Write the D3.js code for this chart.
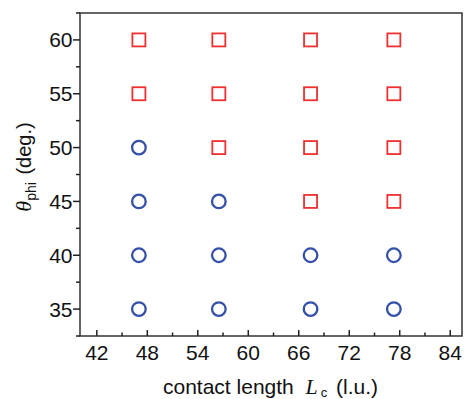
<!DOCTYPE html>
<html>
<head>
<meta charset="utf-8">
<script src="https://cdn.jsdelivr.net/npm/d3@7"></script>
<style>
  body { margin: 0; background: #fff; }
  svg text { font-family: "Liberation Sans", Arial, sans-serif; fill: #111; }
</style>
</head>
<body>
<div id="chart"></div>
<script>
// contact length columns and angle rows
var lengths = [47, 56.5, 67.4, 77.3];
var angles = [35, 40, 45, 50, 55, 60];
// smallest angle that gives a square state, per column
var squareFrom = [55, 50, 45, 45];
var xTicks = [42, 48, 54, 60, 66, 72, 78, 84];
var yTicks = [35, 40, 45, 50, 55, 60];

var margins = { top: 13, right: 2, bottom: 63, left: 80 };
var outerWidth = 464, outerHeight = 399;
var width = outerWidth - margins.left - margins.right;
var height = outerHeight - margins.top - margins.bottom;

var points = [];
lengths.forEach(function(l, i) {
    angles.forEach(function(a) {
        points.push({ x: l, y: a, square: a >= squareFrom[i] });
    });
});

var x = d3.scaleLinear().domain([40, 85.4]).range([0, width]);
var y = d3.scaleLinear().domain([32.5, 62.5]).range([height, 0]);

var svg = d3.select("#chart").append("svg")
    .attr("width", outerWidth)
    .attr("height", outerHeight)
    .append("g")
    .attr("transform", "translate(" + margins.left + "," + margins.top + ")");

// frame
svg.append("rect")
    .attr("x", 0).attr("y", 0)
    .attr("width", width).attr("height", height)
    .attr("fill", "none").attr("stroke", "#333").attr("stroke-width", 1.5);

// y axis, ticks outward
var yMinor = d3.range(32.5, 62.6, 2.5).filter(function(v) { return yTicks.indexOf(v) < 0; });
svg.selectAll(".ymajor").data(yTicks).enter().append("line")
    .attr("x1", -7).attr("x2", 0)
    .attr("y1", y).attr("y2", y)
    .attr("stroke", "#222").attr("stroke-width", 1.5);
svg.selectAll(".yminor").data(yMinor).enter().append("line")
    .attr("x1", -4).attr("x2", 0)
    .attr("y1", y).attr("y2", y)
    .attr("stroke", "#222").attr("stroke-width", 1.5);
svg.selectAll(".ylab").data(yTicks).enter().append("text")
    .attr("font-size", 21)
    .attr("text-anchor", "end")
    .attr("x", -7.5)
    .attr("y", function(d) { return y(d) + 7.5; })
    .text(function(d) { return d; });

// x axis, ticks inward
var xMinor = xTicks.map(function(v) { return v + 3; }).filter(function(v) { return v < 85.4; });
svg.selectAll(".xmajor").data(xTicks).enter().append("line")
    .attr("x1", x).attr("x2", x)
    .attr("y1", height - 6).attr("y2", height)
    .attr("stroke", "#222").attr("stroke-width", 1.5);
svg.selectAll(".xminor").data(xMinor).enter().append("line")
    .attr("x1", x).attr("x2", x)
    .attr("y1", height - 3.5).attr("y2", height)
    .attr("stroke", "#222").attr("stroke-width", 1.5);
svg.selectAll(".xlab").data(xTicks).enter().append("text")
    .attr("font-size", 21)
    .attr("text-anchor", "middle")
    .attr("x", x)
    .attr("y", height + 24)
    .text(function(d) { return d; });

// markers
svg.selectAll(".sq").data(points.filter(function(p) { return p.square; })).enter().append("rect")
    .attr("x", function(d) { return x(d.x) - 6.5; })
    .attr("y", function(d) { return y(d.y) - 6.5; })
    .attr("width", 13).attr("height", 13)
    .attr("fill", "none").attr("stroke", "#ee3030").attr("stroke-width", 1.8);
svg.selectAll(".ci").data(points.filter(function(p) { return !p.square; })).enter().append("circle")
    .attr("cx", function(d) { return x(d.x); })
    .attr("cy", function(d) { return y(d.y); })
    .attr("r", 6.8)
    .attr("fill", "none").attr("stroke", "#3450a8").attr("stroke-width", 2.3);

// axis titles
var serif = "'Liberation Serif', 'Times New Roman', serif";
var xt = svg.append("text")
    .attr("font-size", 21)
    .attr("text-anchor", "start")
    .attr("x", 83)
    .attr("y", height + 58);
xt.append("tspan").text("contact length\u00a0\u00a0");
xt.append("tspan").text("L").style("font-family", serif).style("font-style", "italic").style("font-size", "22px");
xt.append("tspan").text("c").attr("dx", 3).attr("dy", 3).style("font-size", "13px");
xt.append("tspan").text("\u00a0(l.u.)").attr("dy", -3).attr("dx", 3);

var yt = svg.append("text")
    .attr("font-size", 20)
    .attr("text-anchor", "middle")
    .attr("transform", "translate(" + (-49) + "," + (154) + ") rotate(-90)");
yt.append("tspan").text("θ").style("font-family", serif).style("font-style", "italic").style("font-size", "22px");
yt.append("tspan").text("phi").attr("dy", 5).style("font-size", "14px");
yt.append("tspan").text(" (deg.)").attr("dy", -5).attr("dx", 2);
</script>
</body>
</html>
